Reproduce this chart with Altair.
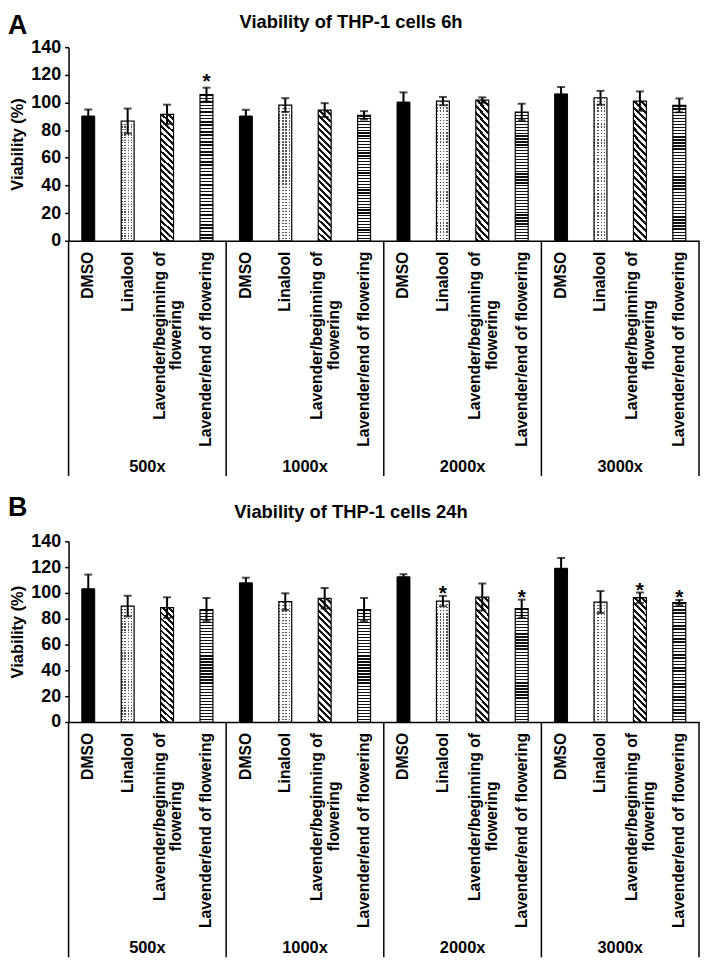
import altair as alt
import pandas as pd

groups = ["500x", "1000x", "2000x", "3000x"]
treatments = ["DMSO", "Linalool", "Lavender/beginning of flowering", "Lavender/end of flowering"]
label_line1 = ["DMSO", "Linalool", "Lavender/beginning of", "Lavender/end of flowering"]
label_line2 = ["", "", "flowering", ""]
y_ticks = [0, 20, 40, 60, 80, 100, 120, 140]

mean_6h = [90.2, 86.6, 91.4, 105.7, 90.2, 98.1, 94.5, 90.7, 100.3, 101.0, 101.7, 93.1, 106.2, 103.4, 101.0, 97.9]
err_6h = [4.7, 9.0, 7.0, 5.0, 4.5, 5.0, 5.0, 3.0, 7.0, 3.0, 2.0, 6.0, 5.0, 5.0, 7.0, 5.0]
sig_6h = [0, 0, 0, 1, 0, 0, 0, 0, 0, 0, 0, 0, 0, 0, 0, 0]

mean_24h = [103.2, 89.8, 88.6, 87.1, 107.8, 93.2, 95.8, 87.1, 112.5, 93.7, 96.8, 87.8, 119.1, 92.9, 96.3, 92.5]
err_24h = [11.0, 8.0, 8.0, 9.0, 4.0, 6.5, 8.0, 9.0, 2.0, 4.0, 10.5, 7.0, 8.0, 8.5, 4.0, 2.0]
sig_24h = [0, 0, 0, 0, 0, 0, 0, 0, 0, 1, 0, 1, 0, 0, 1, 1]

FONT = "Liberation Sans"
W = 635
STEP = W / 16
BAR_W = 13
PI = 1 - BAR_W / STEP
keys = [f"{g}|{t}" for g in groups for t in treatments]


def stripes(n, dark, light, frac, x1, y1, x2, y2):
    stops = []
    for k in range(n):
        a = round(k / n, 5)
        b = round((k + frac) / n, 5)
        c = round((k + 1) / n, 5)
        stops += [{"offset": a, "color": dark}, {"offset": b, "color": dark},
                  {"offset": b, "color": light}, {"offset": c, "color": light}]
    return {"gradient": "linear", "x1": x1, "y1": y1, "x2": x2, "y2": y2, "stops": stops}


def panel(means, errs, sigs, H, letter, title, star_dy, letter_y, title_y):
    rows = []
    for i, k in enumerate(keys):
        rows.append({"key": k, "group": groups[i // 4], "tidx": i % 4,
                     "mean": means[i], "lo": means[i] - errs[i], "hi": means[i] + errs[i],
                     "sig": sigs[i]})
    df = pd.DataFrame(rows)
    ppu = H / 140.0

    def mean_px(t):
        return sum(means[j] for j in range(16) if j % 4 == t) / 4 * ppu

    h_end = mean_px(3)
    h_beg = mean_px(2)
    h_lin = mean_px(1)
    g_end = stripes(round(h_end / 3.1), "#111111", "#ffffff", 0.45, 0, 0, 0, 1)
    r = BAR_W / h_beg
    kk = (1 + r) / (1 + r * r)
    g_beg = stripes(round((h_beg + BAR_W) / 6.6), "#111111", "#ffffff", 0.45, 0, 1, round(r * kk, 5), round(1 - kk, 5))
    g_lin_base = stripes(round(h_lin / 3.0), "#555555", "#ffffff", 0.45, 0, 0, 0, 1)
    g_lin_top = stripes(4, "rgba(255,255,255,0)", "#ffffff", 0.45, 0, 0, 1, 0)

    x = alt.X("key:N", sort=keys,
              scale=alt.Scale(paddingInner=PI, paddingOuter=PI / 2),
              axis=alt.Axis(labels=False, ticks=False, title=None, domainColor="black", domainWidth=1.5))
    yt = "Viability (%)"
    yscale = alt.Scale(domain=[0, 140], nice=False)
    yaxis = alt.Axis(values=y_ticks, tickCount=8, grid=False, domainColor="black", domainWidth=1.5,
                     tickColor="black", tickWidth=1.5, tickSize=4, labelPadding=4, labelOverlap=False,
                     labelFont=FONT, labelFontWeight="bold", labelFontSize=18, labelColor="black",
                     titleFont=FONT, titleFontWeight="bold", titleFontSize=16.5, titleColor="black",
                     titlePadding=5)

    def Y(field):
        return alt.Y(field, scale=yscale, title=yt, axis=yaxis)

    base = alt.Chart(df)
    dmso = base.transform_filter("datum.tidx == 0").mark_bar(fill="black", stroke="black", strokeWidth=1).encode(x=x, y=Y("mean:Q"))
    lin_b = base.transform_filter("datum.tidx == 1").mark_bar(fill=g_lin_base, strokeWidth=0).encode(x=x, y=Y("mean:Q"))
    lin_t = base.transform_filter("datum.tidx == 1").mark_bar(fill=g_lin_top, stroke="black", strokeWidth=1.2).encode(x=x, y=Y("mean:Q"))
    beg = base.transform_filter("datum.tidx == 2").mark_bar(fill=g_beg, stroke="black", strokeWidth=1.2).encode(x=x, y=Y("mean:Q"))
    end = base.transform_filter("datum.tidx == 3").mark_bar(fill=g_end, stroke="black", strokeWidth=1.2).encode(x=x, y=Y("mean:Q"))
    err = base.mark_rule(color="black", strokeWidth=2).encode(x=x, y=Y("lo:Q"), y2="hi:Q")
    cap_hi = base.mark_tick(color="black", thickness=2, size=8).encode(x=x, y=Y("hi:Q"))
    cap_lo = base.mark_tick(color="black", thickness=2, size=8).encode(x=x, y=Y("lo:Q"))
    stars = base.transform_filter("datum.sig == 1").mark_text(
        text="*", font=FONT, fontWeight="bold", fontSize=21, color="black", baseline="alphabetic", dy=star_dy
    ).encode(x=x, y=Y("hi:Q"))

    lab_df = pd.DataFrame({"key": keys,
                           "line1": [label_line1[i % 4] for i in range(16)],
                           "line2": [label_line2[i % 4] for i in range(16)]})
    lbase = alt.Chart(lab_df)
    tprops = dict(angle=270, font=FONT, fontWeight="bold", fontSize=15.8, color="black", baseline="middle")
    lab_single = lbase.transform_filter("datum.line2 == ''").mark_text(align="right", **tprops).encode(
        x=x, y=alt.value(H + 11), text="line1:N")
    lab_first = lbase.transform_filter("datum.line2 != ''").mark_text(align="right", dy=-7.5, **tprops).encode(
        x=x, y=alt.value(H + 11), text="line1:N")
    lab_second = lbase.transform_filter("datum.line2 != ''").mark_text(align="center", dy=9.5, dx=-84, **tprops).encode(
        x=x, y=alt.value(H + 11), text="line2:N")

    grp_df = pd.DataFrame({"key": [f"{g}|{treatments[1]}" for g in groups], "group": groups})
    grp = alt.Chart(grp_df).mark_text(font=FONT, fontWeight="bold", fontSize=16.5, color="black",
                                      baseline="middle", align="center", dx=STEP / 2).encode(
        x=x, y=alt.value(H + 228), text="group:N")

    sep_df = pd.DataFrame({"key": [f"{g}|{treatments[0]}" for g in groups]})
    sep = alt.Chart(sep_df).mark_rule(color="black", strokeWidth=1.5, xOffset=-STEP / 2).encode(
        x=x, y=alt.value(H), y2=alt.value(H + 237))
    sep_end = alt.Chart(pd.DataFrame({"key": [keys[-1]]})).mark_rule(
        color="black", strokeWidth=1.5, xOffset=STEP / 2).encode(x=x, y=alt.value(H), y2=alt.value(H + 237))

    head = pd.DataFrame({"letter": [letter], "title": [title]})
    let = alt.Chart(head).mark_text(font=FONT, fontWeight="bold", fontSize=27, color="black",
                                    align="left", baseline="top").encode(
        x=alt.value(-61), y=alt.value(letter_y), text="letter:N")
    ttl = alt.Chart(head).mark_text(font=FONT, fontWeight="bold", fontSize=18.5, color="black",
                                    align="center", baseline="middle").encode(
        x=alt.value(284.5), y=alt.value(title_y), text="title:N")

    return alt.layer(dmso, lin_b, lin_t, beg, end, err, cap_hi, cap_lo, stars,
                     lab_single, lab_first, lab_second, grp, sep, sep_end, let, ttl).properties(
        width=W, height=H)


top = panel(mean_6h, err_6h, sig_6h, 195, "A", "Viability of THP-1 cells 6h", 0, -34.3, -25.5)
bottom = panel(mean_24h, err_24h, sig_24h, 182, "B", "Viability of THP-1 cells 24h", 4, -46.5, -29)

chart = alt.vconcat(top, bottom, spacing=302.7, bounds="flush").properties(
    padding=0, background="white"
).configure_view(stroke=None).configure_axisY(labelOverlap=False)

chart.save("out.html", embed_options={"renderer": "svg", "actions": False})
